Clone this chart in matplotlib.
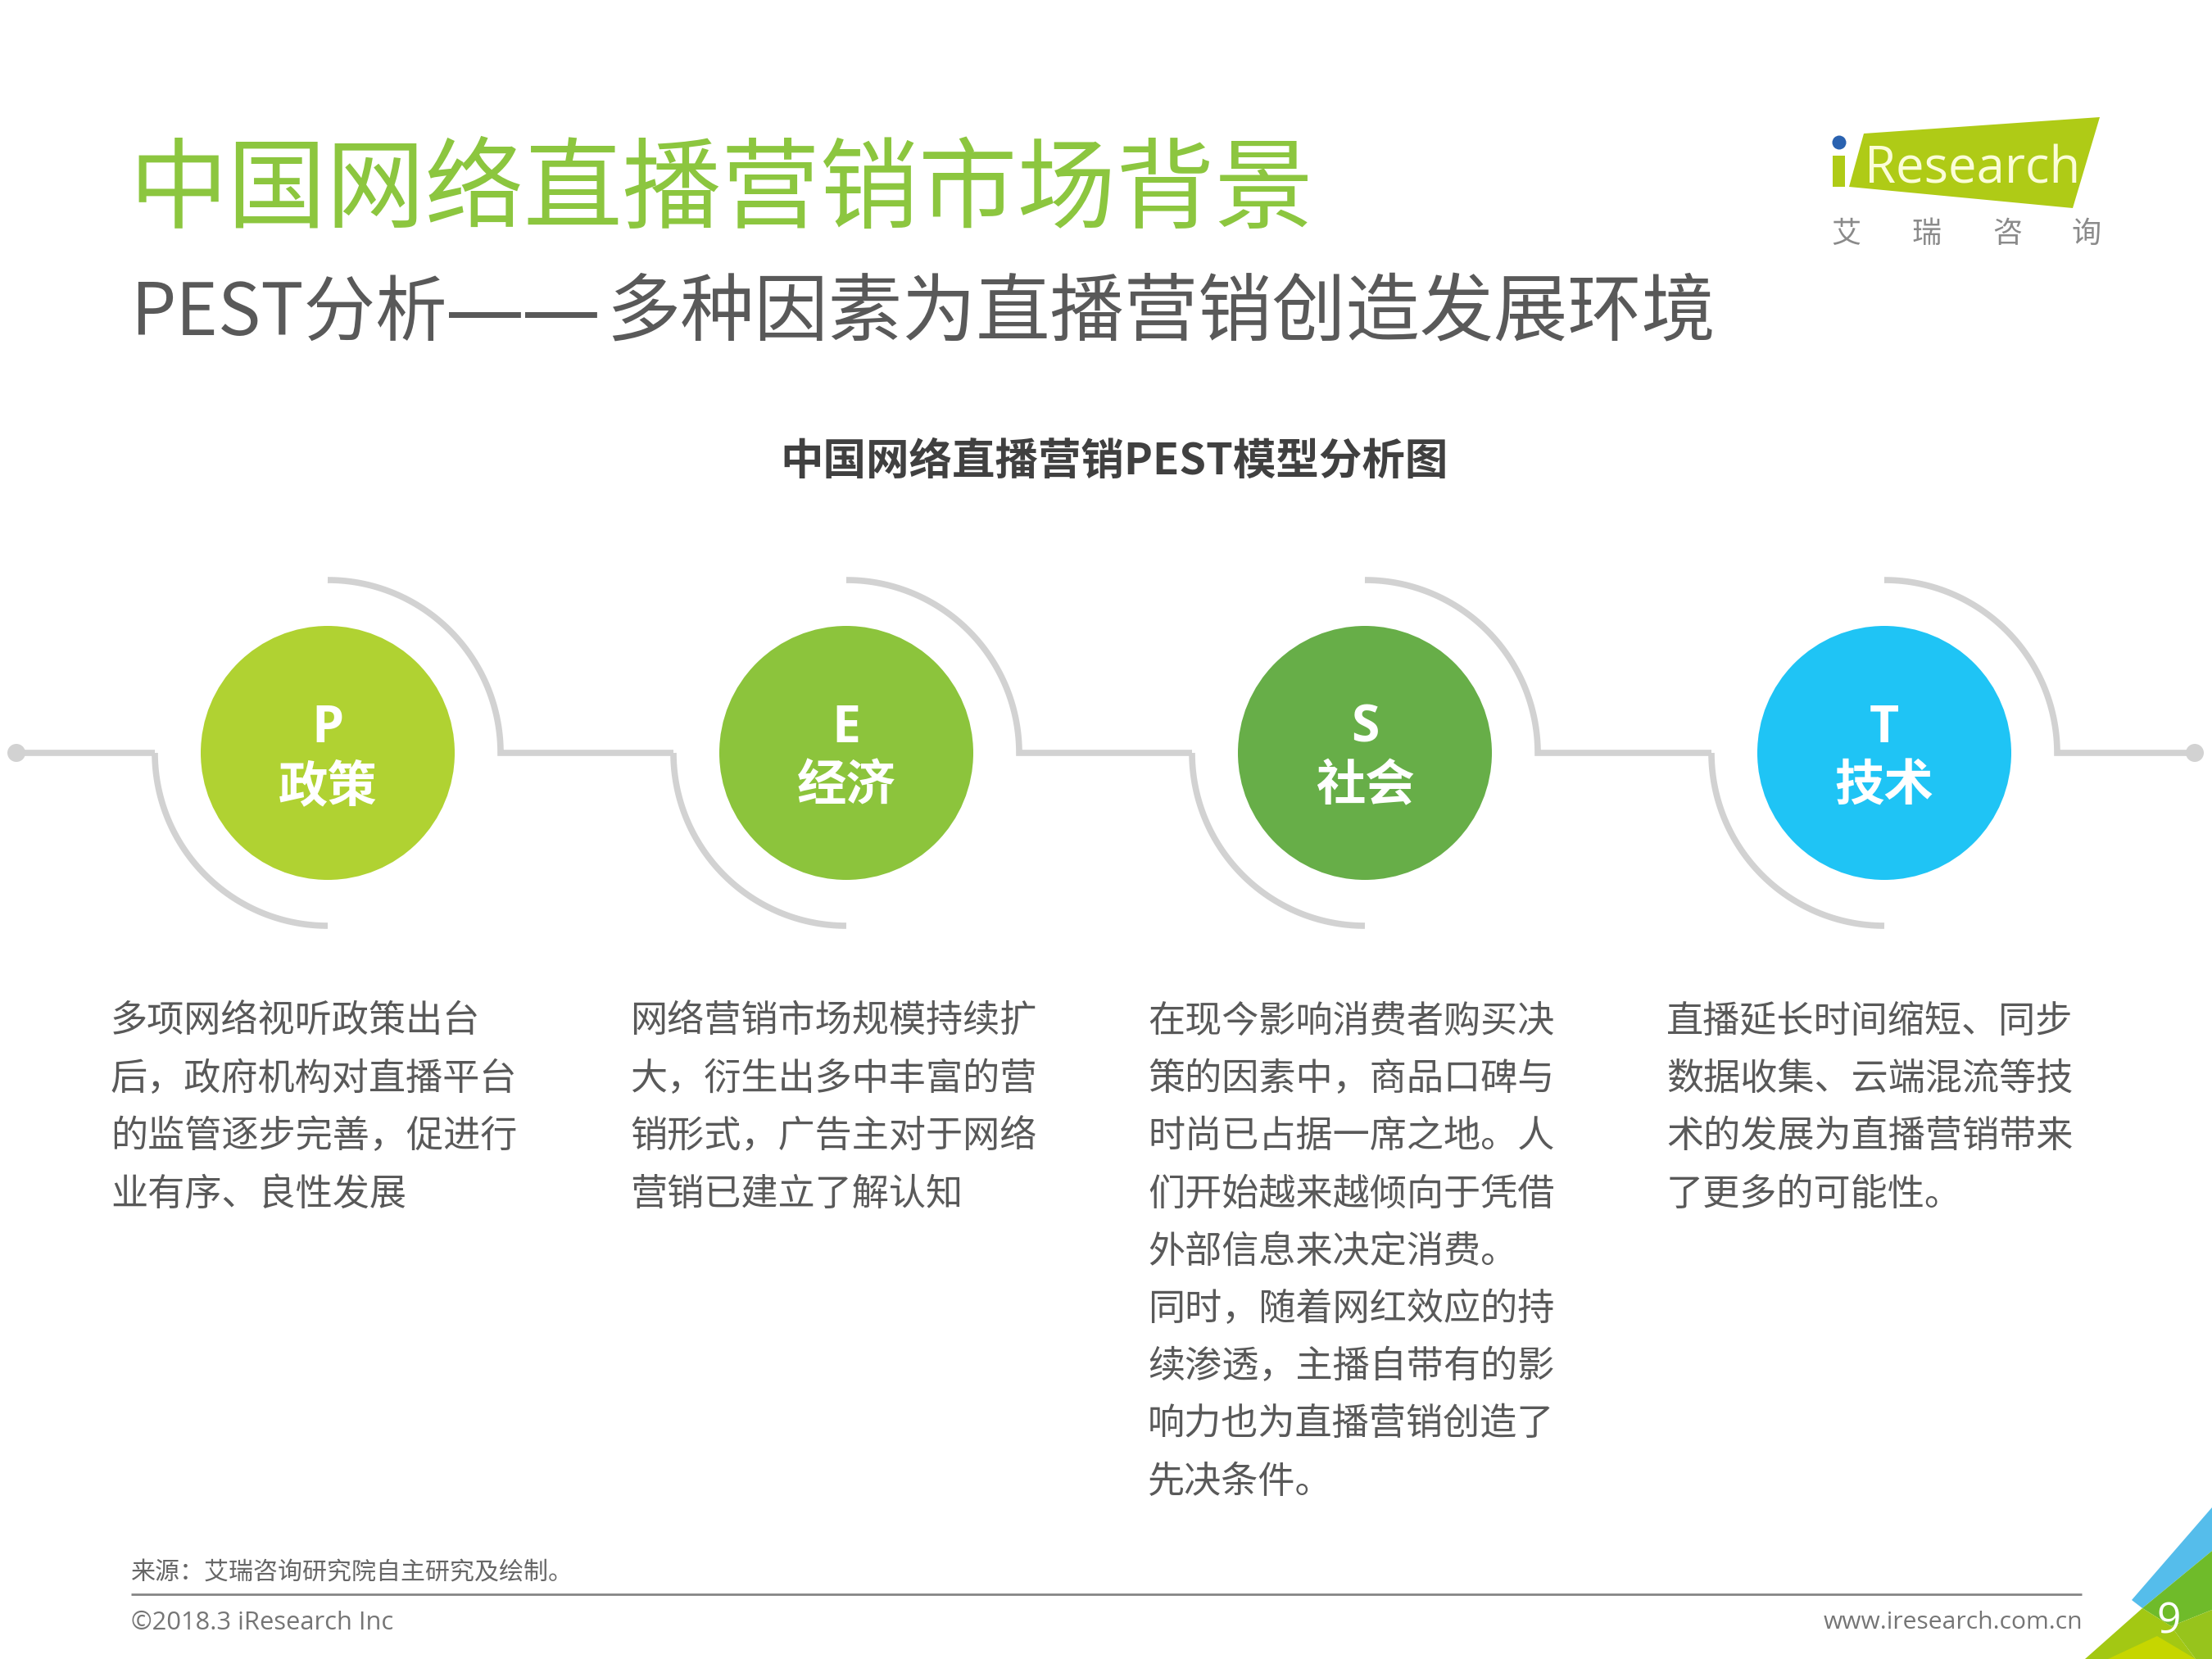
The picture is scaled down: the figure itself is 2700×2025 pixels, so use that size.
import numpy as np
import matplotlib
matplotlib.use("Agg")
import matplotlib.pyplot as plt
from matplotlib.patches import Polygon, Circle, Rectangle

CJK = ['Noto Sans CJK SC', 'DejaVu Sans']
LAT = ['Open Sans', 'Noto Sans CJK SC', 'DejaVu Sans']
plt.rcParams['font.family'] = CJK

title = "中国网络直播营销市场背景"
subtitle_a = "PEST分析"
subtitle_dash = "—"
subtitle_b = "多种因素为直播营销创造发展环境"
chart_title = "中国网络直播营销PEST模型分析图"
letters = ["P", "E", "S", "T"]
names = ["政策", "经济", "社会", "技术"]
colors = ["#B0D232", "#8CC43C", "#67AE48", "#1FC4F5"]
bodies = [
    ["多项网络视听政策出台", "后，政府机构对直播平台", "的监管逐步完善，促进行", "业有序、良性发展"],
    ["网络营销市场规模持续扩", "大，衍生出多中丰富的营", "销形式，广告主对于网络", "营销已建立了解认知"],
    ["在现今影响消费者购买决", "策的因素中，商品口碑与", "时尚已占据一席之地。人", "们开始越来越倾向于凭借",
     "外部信息来决定消费。", "同时，随着网红效应的持", "续渗透，主播自带有的影", "响力也为直播营销创造了", "先决条件。"],
    ["直播延长时间缩短、同步", "数据收集、云端混流等技", "术的发展为直播营销带来", "了更多的可能性。"],
]
source = "来源：艾瑞咨询研究院自主研究及绘制。"
copyright_text = "©2018.3 iResearch Inc"
website = "www.iresearch.com.cn"
page = "9"
logo_word = "Research"
logo_cn = ["艾", "瑞", "咨", "询"]

W, H = 2700, 2025
fig = plt.figure(figsize=(27, 20.25), dpi=100, facecolor="white")
ax = fig.add_axes([0, 0, 1, 1])
ax.set_xlim(0, W)
ax.set_ylim(H, 0)
ax.axis("off")

CX = [400, 1033, 1666, 2300]
CY = 919
R = 155
RA = 211
GREY = "#D2D2D2"
LW = 5.5
TX = [136, 770, 1402, 2035]

ax.text(157, 235, title, fontsize=86.8, color="#8CC63F", va="center", ha="left", fontweight="light")
ax.text(159, 384, subtitle_a, fontsize=63, color="#595959", va="center", ha="left", fontweight="light")
ax.text(543, 384, subtitle_dash, fontsize=79, color="#595959", va="center", ha="left", fontweight="light")
ax.text(636, 384, subtitle_dash, fontsize=79, color="#595959", va="center", ha="left", fontweight="light")
ax.text(740, 384, subtitle_b, fontsize=65, color="#595959", va="center", ha="left", fontweight="light")
ax.text(1360, 563, chart_title, fontsize=37.8, color="#404040", va="center", ha="center", fontweight="bold")

def grey(xs, ys):
    ax.plot(xs, ys, color=GREY, lw=LW, solid_capstyle="butt", solid_joinstyle="miter", zorder=1)

grey([22, CX[0] - RA], [CY, CY])
ax.add_patch(Circle((20, CY), 11, color=GREY, lw=0, zorder=1))
ax.add_patch(Circle((2679, CY), 11, color=GREY, lw=0, zorder=1))
for i, cx in enumerate(CX):
    t = np.linspace(0, np.pi / 2, 80)
    xs = cx + RA * np.sin(t)
    ys = CY - RA * np.cos(t)
    next_x = CX[i + 1] - RA if i < 3 else 2679
    grey(np.r_[xs, next_x], np.r_[ys, CY])
    xl = cx - RA * np.cos(t)
    yl = CY + RA * np.sin(t)
    grey(xl, yl)
    ax.add_patch(Circle((cx, CY), R, color=colors[i], lw=0, zorder=2))
    ax.text(cx, 889, letters[i], fontsize=45, fontweight="bold", family=["Open Sans"], color="white",
            ha="center", va="center", zorder=3)
    ax.text(cx, 960, names[i], fontsize=43.5, fontweight="bold", color="white", ha="center", va="center", zorder=3)
    for j, line in enumerate(bodies[i]):
        ax.text(TX[i] - 1, 1247 + j * 70.2, line, fontsize=32.5, color="#595959", ha="left", va="center")

# footer
ax.text(160, 1920, source, fontsize=21.6, color="#666666", ha="left", va="center")
ax.plot([160, 2541], [1946, 1946], color="#858585", lw=2.0, solid_capstyle="butt")
ax.text(160, 1981, copyright_text, fontsize=22.2, color="#757575", ha="left", va="center", family=LAT)
ax.text(2542, 1981, website, fontsize=21.6, color="#757575", ha="right", va="center", family=LAT)

# corner
ax.add_patch(Polygon([(2602, 1953), (2700, 1840), (2700, 1893), (2615, 1963)], color="#55BDEB", lw=0))
ax.add_patch(Polygon([(2615, 1963), (2700, 1893), (2700, 1965), (2650, 1985)], color="#6FBB2A", lw=0))
ax.add_patch(Polygon([(2545, 2025), (2615, 1963), (2650, 1985), (2680, 2025)], color="#A3C813", lw=0))
ax.add_patch(Polygon([(2573, 2025), (2633, 1997), (2680, 2025)], color="#C6D600", lw=0))
ax.add_patch(Polygon([(2650, 1985), (2700, 1965), (2700, 2025), (2680, 2025)], color="#97C41C", lw=0))
ax.text(2647, 1980, page, fontsize=37, color="white", ha="center", va="center", family=LAT)

# logo
LIME = "#AFCB16"
ax.add_patch(Polygon([(2275, 163), (2563, 143), (2530, 254), (2257, 228)], color=LIME, lw=0))
ax.add_patch(Rectangle((2237, 190), 15, 38, color=LIME, lw=0))
ax.add_patch(Circle((2245, 174), 8.5, color="#2A62B0", lw=0))
ax.text(2276, 223, logo_word, fontsize=44.4, color="#FBFDD8", ha="left", va="baseline", family=LAT, fontweight="medium")
for x, ch in zip([2253, 2352, 2450, 2547], logo_cn):
    ax.text(x, 286, ch, fontsize=26, color="#8A8A8A", ha="center", va="center")

fig.savefig("out.png", dpi=100)
